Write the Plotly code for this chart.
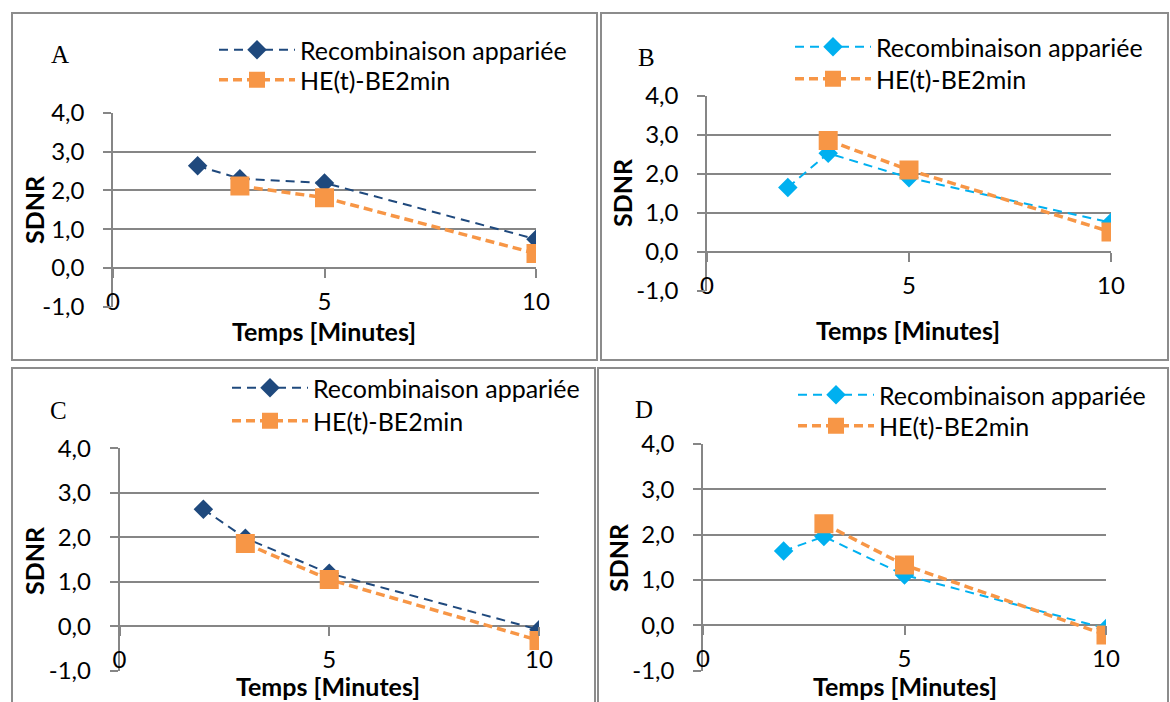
import plotly.graph_objects as go

WIDTH = 1170
HEIGHT = 702

TIME_RECOMB = [2, 3, 5, 10]
TIME_HE = [3, 5, 10]

SDNR_RECOMB_A = [2.63, 2.30, 2.19, 0.74]
SDNR_HE_A = [2.11, 1.81, 0.37]
SDNR_RECOMB_B = [1.65, 2.53, 1.90, 0.75]
SDNR_HE_B = [2.86, 2.10, 0.51]
SDNR_RECOMB_C = [2.63, 1.98, 1.19, -0.08]
SDNR_HE_C = [1.86, 1.05, -0.32]
SDNR_RECOMB_D = [1.64, 1.96, 1.11, -0.07]
SDNR_HE_D = [2.24, 1.33, -0.21]

Y_TICK_VALUES = [-1, 0, 1, 2, 3, 4]
Y_TICK_LABELS = ['-1,0', '0,0', '1,0', '2,0', '3,0', '4,0']
X_TICK_VALUES = [0, 5, 10]
X_TICK_LABELS = ['0', '5', '10']

RECOMB_NAME = 'Recombinaison appariée'
HE_NAME = 'HE(t)-BE2min'
X_TITLE = 'Temps [Minutes]'
Y_TITLE = 'SDNR'

NAVY = '#1F497D'
CYAN = '#00B0F0'
ORANGE = '#F79646'
GRID = '#868686'
FRAME = '#8C8C8C'
FONT = 'Lato'
SERIF = 'Liberation Serif'

# everything in pixels from the top-left corner:
# frame / plot boxes (x0, y0, x1, y1), legend line start x with the two row centres,
# panel letter, x title and y title centres
PANELS = [
    {'letter': 'A', 'recomb': SDNR_RECOMB_A, 'he': SDNR_HE_A, 'colour': NAVY,
     'frame': (12, 13, 597, 360), 'plot': (113, 112.7, 536, 306.7),
     'legend': (214, 50, 80), 'tag': (60, 55), 'xtitle': (324, 331), 'ytitle': (34, 210)},
    {'letter': 'B', 'recomb': SDNR_RECOMB_B, 'he': SDNR_HE_B, 'colour': CYAN,
     'frame': (601, 13, 1168, 360), 'plot': (707, 96, 1111, 290.7),
     'legend': (790, 47, 79), 'tag': (646, 57), 'xtitle': (908, 330), 'ytitle': (622, 193)},
    {'letter': 'C', 'recomb': SDNR_RECOMB_C, 'he': SDNR_HE_C, 'colour': NAVY,
     'frame': (12, 368, 595, 712), 'plot': (119.5, 448.3, 539, 670.7),
     'legend': (227, 388, 421), 'tag': (58, 410), 'xtitle': (328, 686), 'ytitle': (34, 561)},
    {'letter': 'D', 'recomb': SDNR_RECOMB_D, 'he': SDNR_HE_D, 'colour': CYAN,
     'frame': (598, 368, 1168, 712), 'plot': (703, 444, 1106, 670.7),
     'legend': (793, 395, 426), 'tag': (644, 409), 'xtitle': (905, 686), 'ytitle': (618, 558)},
]


def px_x(value):
    return value / WIDTH


def px_y(value):
    return 1 - value / HEIGHT


def legend_id(number):
    return 'legend' if number == 1 else f'legend{number}'


def add_label(fig, text, position, font, angle=0):
    fig.add_annotation(text=text, xref='paper', yref='paper', textangle=angle,
                       x=px_x(position[0]), y=px_y(position[1]),
                       xanchor='center', yanchor='middle', showarrow=False, font=font)


def add_panel(fig, index, panel):
    suffix = '' if index == 0 else str(index + 1)
    recomb_legend = legend_id(2 * index + 1)
    he_legend = legend_id(2 * index + 2)
    x0, y0, x1, y1 = panel['plot']

    fig.add_trace(go.Scatter(
        x=TIME_RECOMB, y=panel['recomb'], name=RECOMB_NAME, mode='lines+markers',
        line=dict(color=panel['colour'], width=2, dash='9px,6px'),
        marker=dict(symbol='diamond', size=15, color=panel['colour']),
        xaxis='x' + suffix, yaxis='y' + suffix, legend=recomb_legend,
    ))
    fig.add_trace(go.Scatter(
        x=TIME_HE, y=panel['he'], name=HE_NAME, mode='lines+markers',
        line=dict(color=ORANGE, width=3.5, dash='9px,5px'),
        marker=dict(symbol='square', size=19, color=ORANGE),
        xaxis='x' + suffix, yaxis='y' + suffix, legend=he_legend,
    ))

    bottom, top = px_y(y1), px_y(y0)
    zero_pos = bottom + (0 - Y_TICK_VALUES[0]) / (Y_TICK_VALUES[-1] - Y_TICK_VALUES[0]) * (top - bottom)

    legend_x, row1, row2 = panel['legend']
    legend_style = dict(x=px_x(legend_x), xanchor='left', yanchor='middle',
                        bgcolor='rgba(0,0,0,0)', itemwidth=76,
                        font=dict(family=FONT, size=25, color='#000000'))

    fig.update_layout({
        'xaxis' + suffix: dict(
            domain=[px_x(x0), px_x(x1)], range=[0, 10], anchor='free', position=zero_pos,
            tickvals=X_TICK_VALUES, ticktext=X_TICK_LABELS, ticks='outside', ticklen=9,
            tickcolor=GRID, tickwidth=1.5, showgrid=False, zeroline=False, showline=False,
            ticklabelstandoff=3, tickfont=dict(family=FONT, size=24, color='#000000'),
            automargin=False, fixedrange=True,
        ),
        'yaxis' + suffix: dict(
            domain=[bottom, top], range=[Y_TICK_VALUES[0], Y_TICK_VALUES[-1]], anchor='x' + suffix,
            tickvals=Y_TICK_VALUES, ticktext=Y_TICK_LABELS, ticks='outside', ticklen=8,
            tickcolor=GRID, tickwidth=1.5, showgrid=True, gridcolor=GRID, gridwidth=1.5,
            zeroline=False, showline=True, linecolor=GRID, linewidth=1.5,
            ticklabelstandoff=14, tickfont=dict(family=FONT, size=24, color='#000000'),
            automargin=False, fixedrange=True,
        ),
        recomb_legend: dict(legend_style, y=px_y(row1)),
        he_legend: dict(legend_style, y=px_y(row2)),
    })

    fx0, fy0, fx1, fy1 = panel['frame']
    fig.add_shape(type='rect', xref='paper', yref='paper',
                  x0=px_x(fx0), x1=px_x(fx1), y0=px_y(fy1), y1=px_y(fy0),
                  line=dict(color=FRAME, width=2), layer='below')

    title_font = dict(family=FONT, size=25, color='#000000')
    add_label(fig, panel['letter'], panel['tag'], dict(family=SERIF, size=25, color='#000000'))
    add_label(fig, f'<b>{X_TITLE}</b>', panel['xtitle'], title_font)
    add_label(fig, f'<b>{Y_TITLE}</b>', panel['ytitle'], title_font, angle=-90)


def main():
    fig = go.Figure()
    for index, panel in enumerate(PANELS):
        add_panel(fig, index, panel)

    fig.update_layout(
        template='none',
        width=WIDTH, height=HEIGHT, autosize=False,
        margin=dict(l=0, r=0, t=0, b=0, pad=0),
        paper_bgcolor='#FFFFFF', plot_bgcolor='rgba(0,0,0,0)',
        font=dict(family=FONT, size=24, color='#000000'),
        showlegend=True,
    )
    fig.write_html('out.html', config={'displayModeBar': False},
                   post_script="document.body.style.margin = '0';")


if __name__ == '__main__':
    main()
